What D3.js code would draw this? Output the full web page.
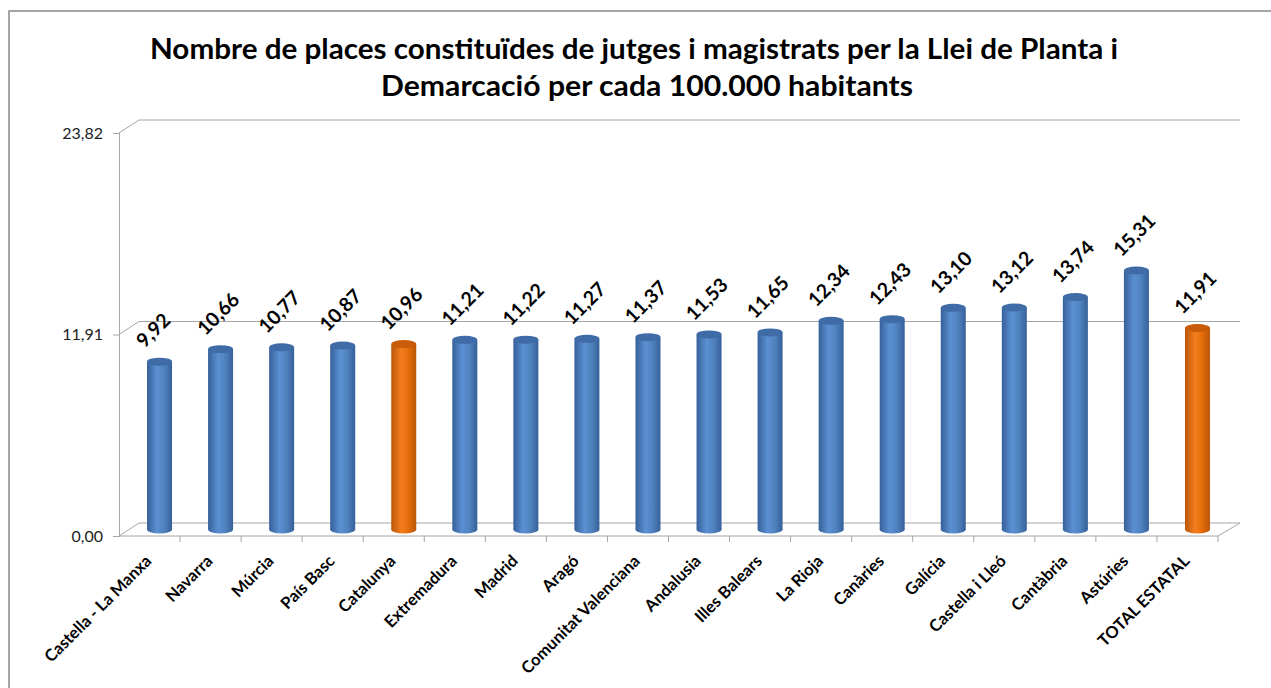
<!DOCTYPE html>
<html>
<head>
<meta charset="utf-8">
<script src="https://cdn.jsdelivr.net/npm/d3@7"></script>
<style>
  body { margin: 0; background: #fff; }
  svg { display: block; font-family: Lato, "Open Sans", sans-serif; }
</style>
</head>
<body>
<div id="chart"></div>
<script>
var w = 1271;
var h = 688;

var categories = ["Castella - La Manxa", "Navarra", "Múrcia", "País Basc", "Catalunya",
    "Extremadura", "Madrid", "Aragó", "Comunitat Valenciana", "Andalusia", "Illes Balears",
    "La Rioja", "Canàries", "Galícia", "Castella i Lleó", "Cantàbria", "Astúries", "TOTAL ESTATAL"];
var values = [9.92, 10.66, 10.77, 10.87, 10.96, 11.21, 11.22, 11.27, 11.37, 11.53, 11.65,
    12.34, 12.43, 13.10, 13.12, 13.74, 15.31, 11.91];
var highlighted = ["Catalunya", "TOTAL ESTATAL"];
var yTicks = [0, 11.91, 23.82];
var titleLines = ["Nombre de places constituïdes de jutges i magistrats per la Llei de Planta i",
    "Demarcació per cada 100.000 habitants"];

// 3d depth offset of the back wall
var dx = 20, dy = -13;
var left = 119, right = 1218;

var svg = d3.select("#chart")
    .append("svg")
    .attr("width", w)
    .attr("height", h);

var defs = svg.append("defs");
function cylGradient(id, edge, mid, light) {
    var g = defs.append("linearGradient").attr("id", id)
        .attr("x1", "0%").attr("x2", "100%").attr("y1", "0%").attr("y2", "0%");
    g.append("stop").attr("offset", "0%").attr("stop-color", edge);
    g.append("stop").attr("offset", "40%").attr("stop-color", light);
    g.append("stop").attr("offset", "70%").attr("stop-color", mid);
    g.append("stop").attr("offset", "100%").attr("stop-color", edge);
}
cylGradient("blueGrad", "#36609a", "#4f81bd", "#5b90d2");
cylGradient("orangeGrad", "#b9560a", "#e46c0a", "#f47e1e");

// outer frame
svg.append("rect")
    .attr("x", 9).attr("y", 11)
    .attr("width", 1300).attr("height", 700)
    .attr("fill", "none")
    .attr("stroke", "#888")
    .attr("stroke-width", 1.5);

// title
svg.selectAll("text.title")
    .data(titleLines)
    .enter()
    .append("text")
    .attr("class", "title")
    .attr("x", (d, i) => i === 0 ? 634 : 647)
    .attr("y", (d, i) => 59 + i * 37)
    .attr("text-anchor", "middle")
    .attr("textLength", (d, i) => i === 0 ? 968 : 532)
    .attr("lengthAdjust", "spacingAndGlyphs")
    .style("font-size", "29px")
    .style("font-weight", "bold")
    .style("fill", "#000")
    .text(d => d);

var xScale = d3.scaleBand()
    .domain(categories)
    .range([left, right]);

var yScale = d3.scaleLinear()
    .domain([0, 23.82])
    .range([536, 133]);

// back gridlines with their depth diagonals
var grid = svg.append("g").attr("stroke", "#a6a6a6").attr("fill", "none");
yTicks.forEach(function (t) {
    var y = yScale(t);
    grid.append("polyline")
        .attr("points", [[left, y], [left + dx, y + dy], [right + dx + 2, y + dy]].join(" "));
});
// floor right edge
grid.append("line")
    .attr("x1", right).attr("y1", yScale(0))
    .attr("x2", right + dx + 2).attr("y2", yScale(0) + dy);

// y axis
var yAxis = svg.append("g")
    .attr("transform", "translate(" + left + ",0)")
    .call(d3.axisLeft(yScale)
        .tickValues(yTicks)
        .tickSize(6)
        .tickFormat(d => d3.format(".2f")(d).replace(".", ",")));
yAxis.attr("font-size", null).attr("font-family", null);
yAxis.select(".domain").attr("stroke", "#a6a6a6");
yAxis.selectAll(".tick line").attr("stroke", "#a6a6a6");
yAxis.selectAll(".tick text")
    .attr("x", -16)
    .attr("font-size", 16)
    .style("fill", "#222");

// x axis (ticks at category boundaries)
var xAxisG = svg.append("g").attr("stroke", "#a6a6a6");
xAxisG.append("line")
    .attr("x1", left).attr("x2", right)
    .attr("y1", yScale(0)).attr("y2", yScale(0));
xAxisG.selectAll("line.tk")
    .data(categories)
    .enter()
    .append("line")
    .attr("class", "tk")
    .attr("x1", d => xScale(d) + xScale.bandwidth())
    .attr("x2", d => xScale(d) + xScale.bandwidth())
    .attr("y1", yScale(0))
    .attr("y2", yScale(0) + 6);

svg.selectAll("text.xlab")
    .data(categories)
    .enter()
    .append("text")
    .attr("class", "xlab")
    .attr("text-anchor", "end")
    .attr("transform", d => "translate(" + (xScale(d) + xScale.bandwidth() / 2 + 3) + "," + 562 + ") rotate(-45)")
    .style("font-size", "16.5px")
    .style("font-weight", "bold")
    .style("fill", "#000")
    .text(d => d);

// cylinders
var barW = 25, ry = 4;
var bars = svg.selectAll("g.bar")
    .data(categories.map((c, i) => ({ cat: c, v: values[i] })))
    .enter()
    .append("g")
    .attr("class", "bar");

function barX(d) { return xScale(d.cat) + xScale.bandwidth() / 2 + dx / 2; }
function barBase() { return yScale(0) + dy / 2; }
function barTop(d) { return yScale(d.v) + dy / 2; }
function isHi(d) { return highlighted.indexOf(d.cat) >= 0; }

bars.append("ellipse")
    .attr("cx", barX)
    .attr("cy", barBase)
    .attr("rx", barW / 2)
    .attr("ry", ry)
    .attr("fill", d => isHi(d) ? "url(#orangeGrad)" : "url(#blueGrad)");

bars.append("rect")
    .attr("x", d => barX(d) - barW / 2)
    .attr("y", barTop)
    .attr("width", barW)
    .attr("height", d => barBase() - barTop(d))
    .attr("fill", d => isHi(d) ? "url(#orangeGrad)" : "url(#blueGrad)");

bars.append("ellipse")
    .attr("cx", barX)
    .attr("cy", barTop)
    .attr("rx", barW / 2)
    .attr("ry", ry)
    .attr("fill", d => isHi(d) ? "#c85c08" : "#3f6ba6");

// value labels
bars.append("text")
    .attr("transform", d => "translate(" + (barX(d) - 15) + "," + (barTop(d) - 13) + ") rotate(-45)")
    .style("font-size", "19.5px")
    .style("font-weight", "bold")
    .style("fill", "#000")
    .text(d => d3.format(".2f")(d.v).replace(".", ","));
</script>
</body>
</html>
